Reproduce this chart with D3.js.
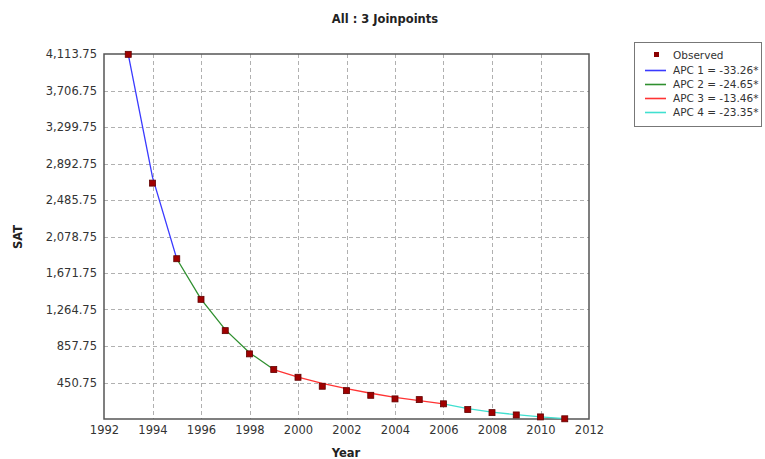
<!DOCTYPE html>
<html>
<head>
<meta charset="utf-8">
<script src="https://cdn.jsdelivr.net/npm/d3@7"></script>
<style>
  body { margin: 0; background: #fff; }
  text { font-family: "DejaVu Sans", sans-serif; }
</style>
</head>
<body>
<div class="chart"></div>
<script>
const years = [1993, 1994, 1995, 1996, 1997, 1998, 1999, 2000, 2001, 2002,
  2003, 2004, 2005, 2006, 2007, 2008, 2009, 2010, 2011];
const observed = [4110, 2674, 1831, 1378, 1029, 770, 595, 509, 409, 360,
  308, 268, 260, 213, 149, 115, 89, 67, 46];

// fitted segments (joinpoint model)
const seg1Years = [1993, 1994, 1995];
const seg1Fit = [4110, 2740, 1831];
const seg2Years = [1995, 1996, 1997, 1998, 1999];
const seg2Fit = [1831, 1380, 1040, 783, 595];
const seg3Years = [1999, 2000, 2001, 2002, 2003, 2004, 2005, 2006];
const seg3Fit = [595, 511, 442, 382, 331, 286, 248, 213];
const seg4Years = [2006, 2007, 2008, 2009, 2010, 2011];
const seg4Fit = [213, 160, 121, 92, 68, 48];

const legendLabels = ["APC 1 = -33.26*", "APC 2 = -24.65*", "APC 3 = -13.46*", "APC 4 = -23.35*"];
const segColors = ["#3a3aff", "#2f8f2f", "#ff3333", "#40e0d0"];

const yTicks = [450.75, 857.75, 1264.75, 1671.75, 2078.75, 2485.75, 2892.75, 3299.75, 3706.75, 4113.75];
const xTicks = [1992, 1994, 1996, 1998, 2000, 2002, 2004, 2006, 2008, 2010, 2012];

const WIDTH = 765, HEIGHT = 459;
const plot = {left: 104, right: 589, top: 54, bottom: 419};

const svg = d3.select('.chart').append('svg')
  .attr("width", WIDTH)
  .attr("height", HEIGHT);

const x = d3.scaleLinear().domain([1992, 2012]).range([plot.left, plot.right]);
const y = d3.scaleLinear().domain([43.75, 4113.75]).range([plot.bottom, plot.top]);

// grid
svg.append("g").selectAll("line.hg")
  .data(yTicks.slice(0, -1))
  .join("line")
  .attr("x1", plot.left).attr("x2", plot.right)
  .attr("y1", d => Math.round(y(d)) + 0.5).attr("y2", d => Math.round(y(d)) + 0.5)
  .attr("stroke", "#b0b0b0")
  .attr("stroke-dasharray", "4,3");

svg.append("g").selectAll("line.vg")
  .data(xTicks.slice(1, -1))
  .join("line")
  .attr("y1", plot.top).attr("y2", plot.bottom)
  .attr("x1", d => Math.round(x(d)) + 0.5).attr("x2", d => Math.round(x(d)) + 0.5)
  .attr("stroke", "#b0b0b0")
  .attr("stroke-dasharray", "4,3");

// border
svg.append("rect")
  .attr("x", plot.left).attr("y", plot.top)
  .attr("width", plot.right - plot.left).attr("height", plot.bottom - plot.top)
  .attr("fill", "none")
  .attr("stroke", "#555")
  .attr("stroke-width", 1.5);

// axes labels
const yAxis = d3.axisLeft(y).tickValues(yTicks).tickSize(0).tickPadding(6)
  .tickFormat(d3.format(",.2f"));
svg.append("g")
  .attr("transform", `translate(${plot.left - 1},0)`)
  .call(yAxis)
  .call(g => g.select(".domain").remove())
  .selectAll("text")
  .attr("font-family", "DejaVu Sans, sans-serif")
  .attr("font-size", 11.5)
  .attr("fill", "#333");

const xAxis = d3.axisBottom(x).tickValues(xTicks).tickSize(0).tickPadding(6)
  .tickFormat(d3.format("d"));
svg.append("g")
  .attr("transform", `translate(0,${plot.bottom + 1})`)
  .call(xAxis)
  .call(g => g.select(".domain").remove())
  .selectAll("text")
  .attr("font-family", "DejaVu Sans, sans-serif")
  .attr("font-size", 11.5)
  .attr("fill", "#333");

// fitted lines
const line = d3.line().x(d => x(d[0])).y(d => y(d[1]));
const segments = [
  d3.zip(seg1Years, seg1Fit),
  d3.zip(seg2Years, seg2Fit),
  d3.zip(seg3Years, seg3Fit),
  d3.zip(seg4Years, seg4Fit)
];
svg.append("g").selectAll("path")
  .data(segments)
  .join("path")
  .attr("d", line)
  .attr("fill", "none")
  .attr("stroke", (d, i) => segColors[i])
  .attr("stroke-width", 1.3);

// observed markers
svg.append("g").selectAll("rect")
  .data(d3.zip(years, observed))
  .join("rect")
  .attr("x", d => x(d[0]) - 3)
  .attr("y", d => y(d[1]) - 3)
  .attr("width", 6).attr("height", 6)
  .attr("fill", "#a00000")
  .attr("stroke", "#600000")
  .attr("stroke-width", 0.8);

// title and axis titles
svg.append("text")
  .text("All : 3 Joinpoints")
  .attr("x", 385).attr("y", 23)
  .attr("text-anchor", "middle")
  .attr("font-weight", "bold")
  .attr("font-size", 11.5)
  .attr("fill", "#222");

svg.append("text")
  .text("Year")
  .attr("x", 346).attr("y", 457)
  .attr("text-anchor", "middle")
  .attr("font-weight", "bold")
  .attr("font-size", 11.5)
  .attr("fill", "#222");

svg.append("text")
  .text("SAT")
  .attr("transform", "translate(22,237) rotate(-90)")
  .attr("text-anchor", "middle")
  .attr("font-weight", "bold")
  .attr("font-size", 11.5)
  .attr("fill", "#222");

// legend
const legend = svg.append("g");
legend.append("rect")
  .attr("x", 634.5).attr("y", 42.5)
  .attr("width", 127).attr("height", 84)
  .attr("fill", "#fff")
  .attr("stroke", "#777");

legend.append("rect")
  .attr("x", 654).attr("y", 52)
  .attr("width", 5).attr("height", 5)
  .attr("fill", "#8b0000");
legend.append("text")
  .text("Observed")
  .attr("x", 673).attr("y", 59)
  .attr("font-size", 10.5)
  .attr("fill", "#333");

legend.selectAll("g.item")
  .data(legendLabels)
  .join("g")
  .attr("class", "item")
  .attr("transform", (d, i) => `translate(0,${70 + i * 14})`)
  .each(function (d, i) {
    const g = d3.select(this);
    g.append("line")
      .attr("x1", 645).attr("x2", 666)
      .attr("y1", 0.5).attr("y2", 0.5)
      .attr("stroke", segColors[i])
      .attr("stroke-width", 1.6);
    g.append("text")
      .text(d)
      .attr("x", 673).attr("y", 4)
      .attr("font-size", 10.5)
      .attr("fill", "#333");
  });
</script>
</body>
</html>
